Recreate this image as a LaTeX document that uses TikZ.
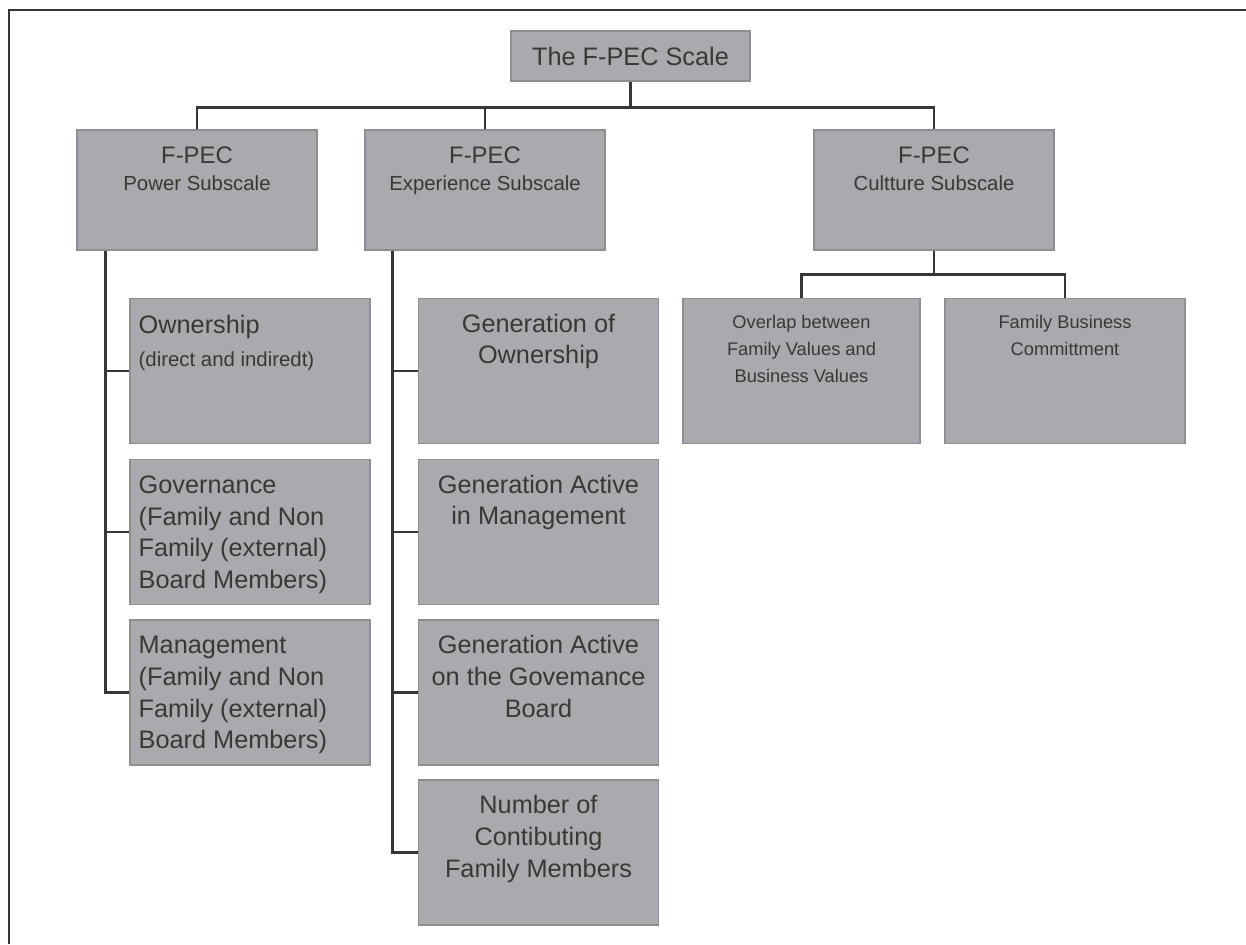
\documentclass[tikz,border=0pt]{standalone}
\usepackage{fontspec}
\setmainfont{Liberation Sans}
\definecolor{FPECbox}{HTML}{A9AAAD}
\definecolor{FPECedge}{HTML}{8E8F93}
\definecolor{FPECink}{HTML}{383838}
\definecolor{FPEClink}{HTML}{363636}
\usetikzlibrary{positioning, calc}

\newcommand{\titlefont}{\fontsize{14.4}{17}\selectfont}
\newcommand{\headfont}{\fontsize{13.6}{16}\selectfont}
\newcommand{\subfont}{\fontsize{11.6}{16}\selectfont}
\newcommand{\itemfont}{\fontsize{14.4}{18.1}\selectfont}
\newcommand{\notefont}{\fontsize{11.6}{17}\selectfont}
\newcommand{\valuefont}{\fontsize{10.4}{15.3}\selectfont}

\tikzset{
   scalebox/.style={draw=FPECedge, fill=FPECbox, line width=0.8pt, inner sep=0pt,
      minimum width=4.8cm, minimum height=2.9cm},
   headbox/.style={scalebox, minimum height=2.4cm},
   boxtext/.style={inner sep=0pt, text=FPECink, align=center},
   lefttext/.style={boxtext, align=left},
   link/.style={draw=FPEClink, line width=1.4pt}
}

\begin{document}
\begin{tikzpicture}[x=0.02cm, y=-0.02cm]
   \useasboundingbox (0,0) rectangle (1246,944);
   % Frame
   \draw[FPEClink, line width=1.2pt] (9,944) -- (9,10) -- (1246,10);
   % Top
   \node[scalebox, minimum width=4.78cm, minimum height=1cm, font=\titlefont, text=FPECink]
      (top) at (630.5,56) {The F-PEC Scale};
   % Subscales
   \node[headbox] (power) at (197,190) {};
   \node[headbox] (exper) at (485,190) {};
   \node[headbox] (cult) at (934,190) {};
   \node[boxtext, below=0.34cm of power.north] (power-t) {{\headfont F-PEC}\\[3.4pt]{\subfont Power Subscale}};
   \node[boxtext, below=0.34cm of exper.north] (exper-t) {{\headfont F-PEC}\\[3.4pt]{\subfont Experience Subscale}};
   \node[boxtext, below=0.34cm of cult.north] (cult-t) {{\headfont F-PEC}\\[3.4pt]{\subfont Cultture Subscale}};
   % Power items
   \node[scalebox] (own) at (250,371) {};
   \node[scalebox] (gov) at (250,532) {};
   \node[scalebox] (mgmt) at (250,692.5) {};
   \node[lefttext, font=\itemfont, below right=0.33cm and 0.18cm of own.north west] (own-t)
      {Ownership\\[1pt]{\notefont (direct and indiredt)}};
   \node[lefttext, font=\itemfont, below right=0.33cm and 0.18cm of gov.north west] (gov-t)
      {Governance\\(Family and Non\\Family (external)\\Board Members)};
   \node[lefttext, font=\itemfont, below right=0.33cm and 0.18cm of mgmt.north west] (mgmt-t)
      {Management\\(Family and Non\\Family (external)\\Board Members)};
   % Experience items
   \node[scalebox] (genown) at (538.5,371) {};
   \node[scalebox] (genmgmt) at (538.5,532) {};
   \node[scalebox] (genboard) at (538.5,692.5) {};
   \node[scalebox] (members) at (538.5,852.5) {};
   \node[boxtext, font=\itemfont, below=0.31cm of genown.north] (genown-t) {Generation of\\Ownership};
   \node[boxtext, font=\itemfont, below=0.31cm of genmgmt.north] (genmgmt-t) {Generation Active\\in Management};
   \node[boxtext, font=\itemfont, below=0.31cm of genboard.north] (genboard-t) {Generation Active\\on the Govemance\\Board};
   \node[boxtext, font=\itemfont, below=0.31cm of members.north] (members-t) {Number of\\Contibuting\\Family Members};
   % Culture items
   \node[scalebox, minimum width=4.74cm] (overlap) at (801.5,371) {};
   \node[scalebox] (commit) at (1065,371) {};
   \node[boxtext, font=\valuefont, below=0.34cm of overlap.north] (overlap-t) {Overlap between\\Family Values and\\Business Values};
   \node[boxtext, font=\valuefont, below=0.34cm of commit.north] (commit-t) {Family Business\\Committment};
   % Links
   \draw[link] (top.south) -- ++(0,26) coordinate (hub);
   \foreach \n in {power,exper,cult} \draw[link] (hub) -| (\n.north);
   \coordinate (ptrunk) at ($(power.south west)+(29,0)$);
   \foreach \n in {own,gov,mgmt} \draw[link] (ptrunk) |- (\n.west);
   \coordinate (etrunk) at ($(exper.south west)+(28,0)$);
   \foreach \n in {genown,genmgmt,genboard,members} \draw[link] (etrunk) |- (\n.west);
   \draw[link] (cult.south) -- ++(0,24) coordinate (chub);
   \foreach \n in {overlap,commit} \draw[link] (chub) -| (\n.north);
\end{tikzpicture}
\end{document}
